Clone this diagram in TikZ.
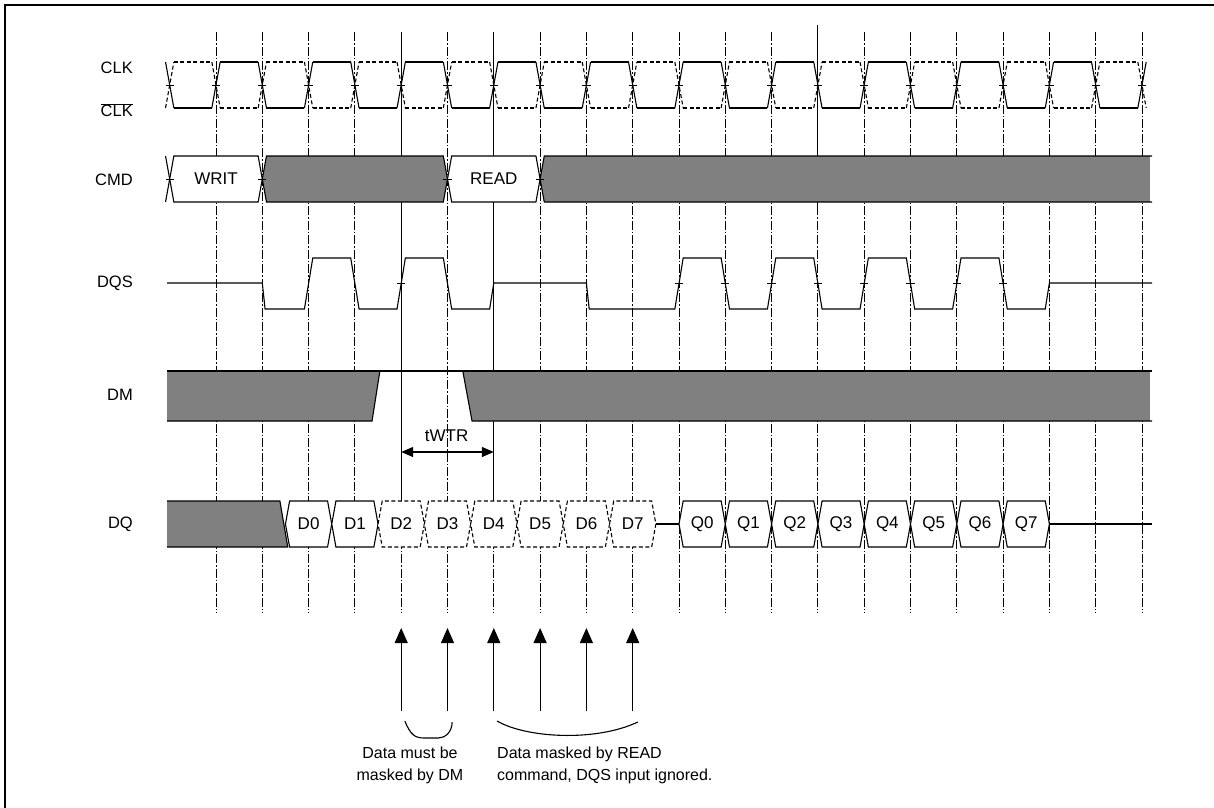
\documentclass[tikz,border=0pt]{standalone}
\usepackage{fontspec}
\setmainfont{Liberation Sans}
\usetikzlibrary{arrows.meta}

% half width of a signal edge, in clock units
\newcommand{\trw}{0.09}

\begin{document}
\begin{tikzpicture}[x=46.3pt, y=-1pt,
  wave/.style={line width=1.1pt},
  wavedot/.style={line width=1.1pt, dash pattern=on 4pt off 2.5pt},
  gridline/.style={line width=1pt, dash pattern=on 9pt off 2pt on 1.5pt off 2pt},
  siglabel/.style={font=\fontsize{16.5}{17}\selectfont, inner sep=0pt, anchor=east},
  buslabel/.style={font=\fontsize{17}{17}\selectfont, inner sep=0pt},
  note/.style={font=\fontsize{16}{22}\selectfont, inner sep=0pt},
  tick/.style={line width=0.8pt},
  uparrow/.style={line width=1.1pt, -{Triangle[length=15pt,width=13pt]}},
]
\useasboundingbox ({-216/46.3},0) rectangle ({998/46.3},807);

%Frame
\draw[line width=2pt] ({-210.5/46.3},808) -- ({-210.5/46.3},5.3) -- ({1000/46.3},5.3);

%Grid
\foreach \k in {0,...,20} \draw[gridline] (\k,32) -- (\k,613);
\draw[wave] (4,32) -- (4,548);
\draw[wave] (6,32) -- (6,548);
\draw[wave] (13,25) -- (13,210);

%Labels
\node[siglabel] (clk)  at (-1.793,68)  {CLK};
\node[siglabel] (clkb) at (-1.793,110) {$\overline{\mbox{CLK}}$};
\node[siglabel] (cmd)  at (-1.793,180) {CMD};
\node[siglabel] (dqs)  at (-1.793,283) {DQS};
\node[siglabel] (dm)   at (-1.793,395) {DM};
\node[siglabel] (dq)   at (-1.793,524) {DQ};

%CLK
\foreach \k in {-1,...,20}{
  \ifodd\k
    \draw[wave] (\k-\trw,62) -- (\k+\trw,108);
    \draw[wavedot] (\k-\trw,108) -- (\k+\trw,62);
  \else
    \draw[wave] (\k-\trw,108) -- (\k+\trw,62);
    \draw[wavedot] (\k-\trw,62) -- (\k+\trw,108);
  \fi
  \draw[tick] (\k-\trw,85) -- (\k+\trw,85);
}
\foreach \k in {-1,...,19}{
  \ifodd\k
    \draw[wave] (\k+\trw,108) -- (\k+1-\trw,108);
    \draw[wavedot] (\k+\trw,62) -- (\k+1-\trw,62);
  \else
    \draw[wave] (\k+\trw,62) -- (\k+1-\trw,62);
    \draw[wavedot] (\k+\trw,108) -- (\k+1-\trw,108);
  \fi
}

%CMD
\draw[wave] (-1-\trw,156) -- (-1,179) -- (-1-\trw,202);
\filldraw[wave, fill=white] (-1,179) -- (-1+\trw,156) -- (1-\trw,156) -- (1,179) -- (1-\trw,202) -- (-1+\trw,202) -- cycle;
\filldraw[wave, fill=gray] (1,179) -- (1+\trw,156) -- (5-\trw,156) -- (5,179) -- (5-\trw,202) -- (1+\trw,202) -- cycle;
\filldraw[wave, fill=white] (5,179) -- (5+\trw,156) -- (7-\trw,156) -- (7,179) -- (7-\trw,202) -- (5+\trw,202) -- cycle;
\fill[gray] (7,179) -- (7+\trw,156) -- (20.17,156) -- (20.17,202) -- (7+\trw,202) -- cycle;
\draw[wave] (20.22,156) -- (7+\trw,156) -- (7,179) -- (7+\trw,202) -- (20.22,202);
\foreach \k in {-1,1,5,7} \draw[tick] (\k-\trw,179) -- (\k+\trw,179);
\node[buslabel] (writ) at (0,179) {WRIT};
\node[buslabel] (read) at (6,179) {READ};

%DQS
\draw[wave] (-1.058,283) -- (1,283) -- (1.06,309) -- (2-\trw,309) -- (2+\trw,258) -- (3-\trw,258)
  -- (3+\trw,309) -- (4-\trw,309) -- (4+\trw,258) -- (5-\trw,258) -- (5+\trw,309) -- (6-\trw,309)
  -- (6,283) -- (8,283) -- (8.06,309) -- (10-\trw,309) -- (10+\trw,258) -- (11-\trw,258)
  -- (11+\trw,309) -- (12-\trw,309) -- (12+\trw,258) -- (13-\trw,258) -- (13+\trw,309)
  -- (14-\trw,309) -- (14+\trw,258) -- (15-\trw,258) -- (15+\trw,309) -- (16-\trw,309)
  -- (16+\trw,258) -- (17-\trw,258) -- (17+\trw,309) -- (18-\trw,309) -- (18,283) -- (20.22,283);
\foreach \k in {4,10,11,12,13,14,15,16,17} \draw[tick] (\k-\trw,283) -- (\k+\trw,283);

%DM
\fill[gray] (-1.058,371) -- (3.54,371) -- (3.37,421) -- (-1.058,421) -- cycle;
\fill[gray] (5.33,371) -- (20.17,371) -- (20.17,421) -- (5.53,421) -- cycle;
\draw[wave] (-1.058,371) -- (20.22,371);
\draw[wave] (-1.058,421) -- (3.37,421) -- (3.54,371);
\draw[wave] (5.33,371) -- (5.53,421) -- (20.22,421);

%tWTR
\coordinate (twa) at (4,452);
\coordinate (twb) at (6,452);
\draw[wave, {Triangle[length=12pt,width=10pt]}-{Triangle[length=12pt,width=10pt]}] (twa) -- (twb);
\node[buslabel] (twtr) at (4.98,436) {tWTR};

%DQ
\filldraw[wave, fill=gray] (-1.058,501) -- (1.38,501) -- (1.55,547) -- (-1.058,547);
\foreach \i [evaluate=\i as \a using \i+1.5] in {0,1}{
  \filldraw[wave, fill=white] (\a,524) -- (\a+\trw,501) -- (\a+1-\trw,501) -- (\a+1,524) -- (\a+1-\trw,547) -- (\a+\trw,547) -- cycle;
  \node[buslabel] (d\i) at (\a+0.5,524) {D\i};
}
\foreach \i [evaluate=\i as \a using \i+1.5] in {2,...,7}{
  \filldraw[wavedot, fill=white] (\a,524) -- (\a+\trw,501) -- (\a+1-\trw,501) -- (\a+1,524) -- (\a+1-\trw,547) -- (\a+\trw,547) -- cycle;
  \node[buslabel] (d\i) at (\a+0.5,524) {D\i};
}
\draw[wave] (9.5,524) -- (10,524);
\foreach \i [evaluate=\i as \a using \i+10] in {0,...,7}{
  \filldraw[wave, fill=white] (\a,524) -- (\a+\trw,501) -- (\a+1-\trw,501) -- (\a+1,524) -- (\a+1-\trw,547) -- (\a+\trw,547) -- cycle;
  \node[buslabel] (q\i) at (\a+0.5,524) {Q\i};
}
\draw[wave] (18,524) -- (20.22,524);

%Arrows
\foreach \k in {4,...,9}{
  \coordinate (lo\k) at (\k,711);
  \coordinate (hi\k) at (\k,628);
  \draw[uparrow] (lo\k) -- (hi\k);
}

%Braces
\draw[wave] (4.08,721) .. controls (4.2,735) and (4.3,738) .. (4.5,738) -- (4.8,738)
  .. controls (4.95,738) and (5.1,732) .. (5.1,722);
\draw[wave] (6.07,721) .. controls (6.7,738) and (8.2,742) .. (9.11,722);

%Notes
\node[note, align=center, anchor=north] (dmnote) at (4.19,747) {Data must be\\masked by DM};
\node[note, align=left, anchor=north west] (readnote) at (6.07,747) {Data masked by READ\\command, DQS input ignored.};
\end{tikzpicture}
\end{document}
